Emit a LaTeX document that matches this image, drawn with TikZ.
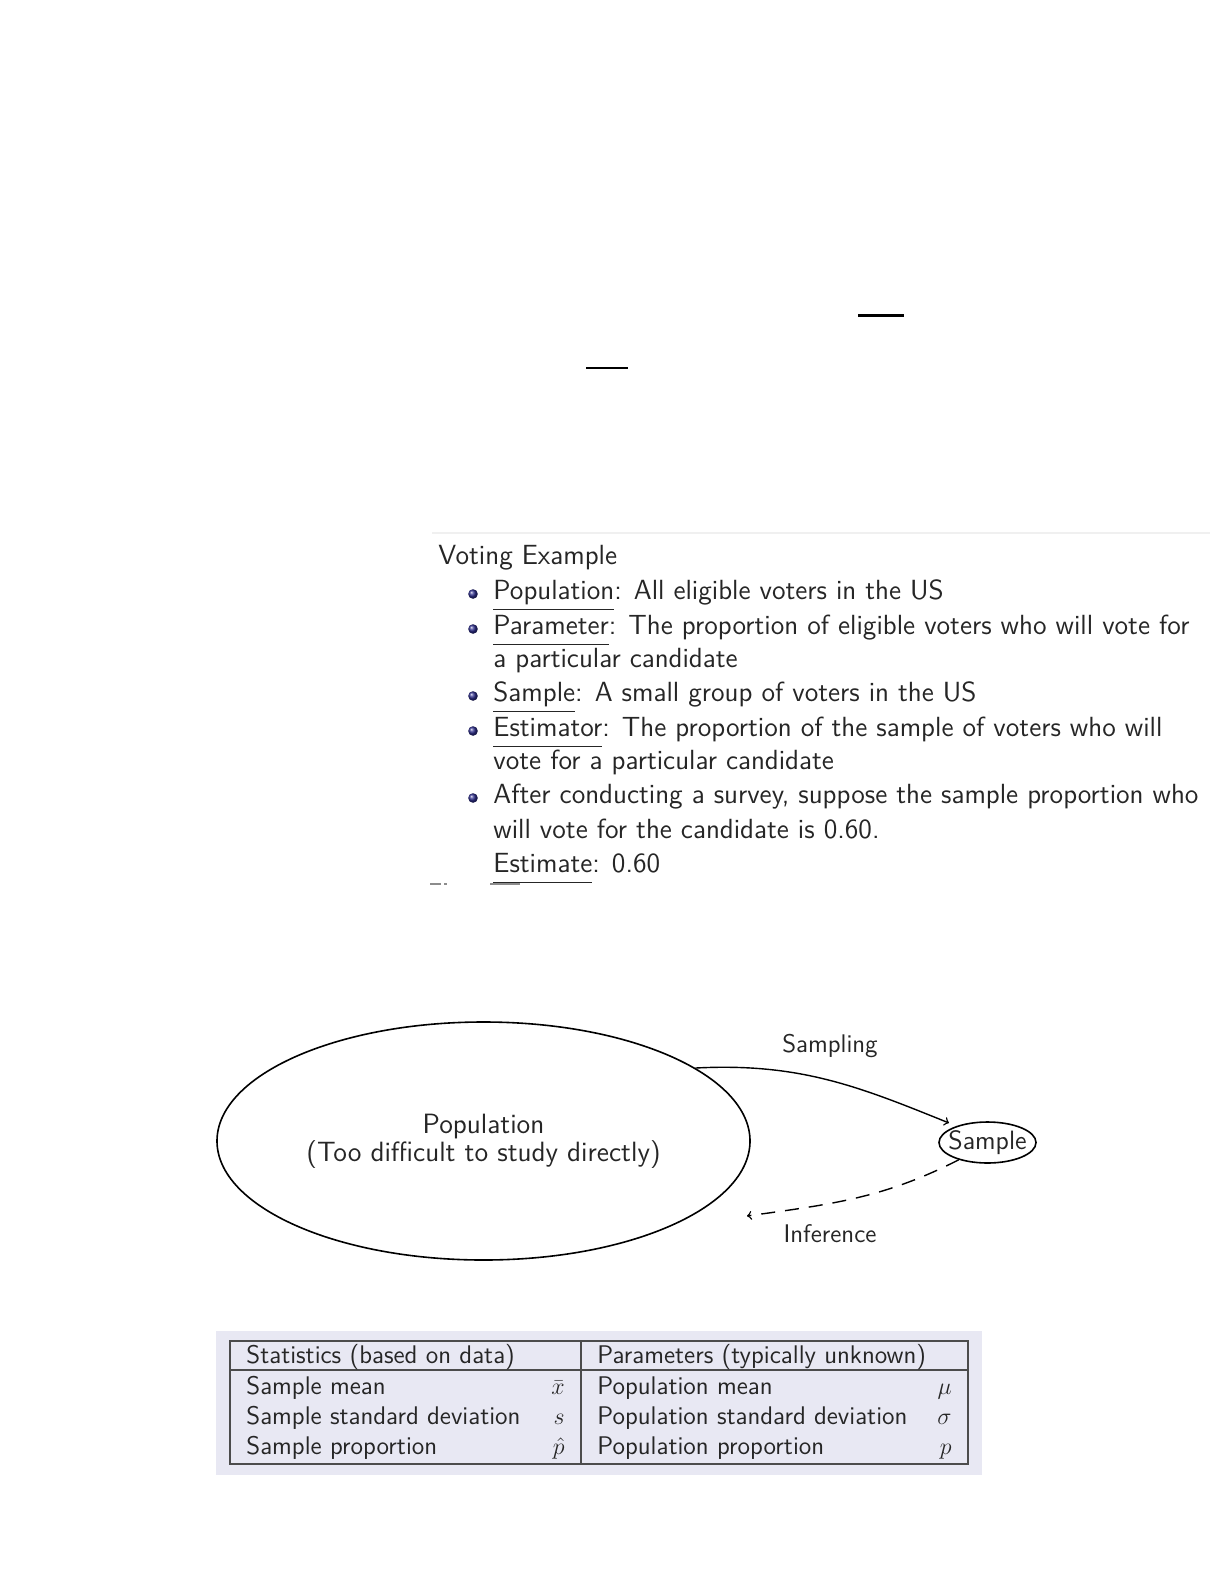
\documentclass[tikz,border=0pt]{standalone}
\usetikzlibrary{shapes.geometric}

\definecolor{tablebg}{RGB}{232,232,243}
\definecolor{ballblue}{RGB}{45,45,140}
\newcommand{\undl}[1]{\underline{#1\rule[-0.26em]{0pt}{0.5em}}}

\begin{document}
\begin{tikzpicture}[x=0.5bp, y=-0.5bp, >=to,
    every node/.style={text=black!85},
    vote/.style={anchor=base west, inner sep=0pt, font=\sffamily\fontsize{13.9}{16}\selectfont},
    cell/.style={inner xsep=0pt, font=\sffamily\fontsize{12.8}{15}\selectfont, execute at begin node=\strut},
    diag/.style={font=\sffamily\fontsize{12.8}{14}\selectfont},
    tbl/.style={black!70, line width=1bp}]
    \useasboundingbox (0,0) rectangle (1224,1584);

    % two short rules at the top
    \draw[line width=1.5bp] (858,315) -- (904,315);
    \draw[line width=1bp] (586,368) -- (628,368);

    % voting example
    \draw[black!6, line width=1bp] (432,533) -- (1210,533);
    \node[vote] (title) at (438,564) {Voting Example};
    \node[vote] (item1) at (493,599) {\undl{Population}: All eligible voters in the US};
    \node[vote] (item2) at (493,634) {\undl{Parameter}: The proportion of eligible voters who will vote for};
    \node[vote] (item2b) at (493,667) {a particular candidate};
    \node[vote] (item3) at (493,701) {\undl{Sample}: A small group of voters in the US};
    \node[vote] (item4) at (493,736) {\undl{Estimator}: The proportion of the sample of voters who will};
    \node[vote] (item4b) at (493,769) {vote for a particular candidate};
    \node[vote] (item5) at (493,803) {After conducting a survey, suppose the sample proportion who};
    \node[vote] (item5b) at (493,838) {will vote for the candidate is 0.60.};
    \node[vote] (item5c) at (493,872) {\undl{Estimate}: 0.60};
    \foreach \y in {599,634,701,736,803}
        \shade[ball color=ballblue] (473,\y-5) circle (4.8);
    % cut off line below
    \fill[black!45] (430,883) rectangle (441,885);
    \fill[black!45] (444,883) rectangle (447,885);
    \fill[black!45] (490,883) rectangle (520,885);

    % population and sample
    \node[draw, ellipse, line width=0.8bp, minimum width=266.5bp, minimum height=119bp,
        align=center, font=\sffamily\fontsize{14}{14}\selectfont] (popn) at (483.5,1141)
        {Population\\(Too difficult to study directly)};
    \node[draw, ellipse, line width=0.8bp, inner sep=0pt, minimum width=48.5bp,
        minimum height=20.5bp, font=\sffamily\fontsize{13.3}{14}\selectfont] (smpl) at (987.5,1142.5)
        {\makebox[0pt]{Sample}};
    \coordinate (infend) at (747,1216);
    \draw[->, line width=0.7bp, shorten >=4bp] (popn.19) to[out=3, in=158] (smpl.152);
    \draw[->, dash pattern=on 7bp off 5bp, line width=0.7bp] (smpl.211) to[out=207, in=8] (infend);
    \node[diag] (sampling) at (830,1046) {Sampling};
    \node[diag] (inference) at (830,1234) {Inference};

    % statistics vs parameters
    \fill[tablebg] (216,1331) rectangle (982,1475);
    \draw[tbl] (230,1341) rectangle (968,1464);
    \draw[tbl] (230,1370) -- (968,1370);
    \draw[tbl] (581,1341) -- (581,1464);
    \node[cell, anchor=west] (stath) at (246,1358) {Statistics (based on data)};
    \node[cell, anchor=west] (parh) at (597,1358) {Parameters (typically unknown)};
    \node[cell, anchor=west] (s1) at (246,1389) {Sample mean};
    \node[cell, anchor=west] (s2) at (246,1419) {Sample standard deviation};
    \node[cell, anchor=west] (s3) at (246,1449) {Sample proportion};
    \node[cell, anchor=east] (s1m) at (565,1389) {$\bar{x}$};
    \node[cell, anchor=east] (s2m) at (565,1419) {$s$};
    \node[cell, anchor=east] (s3m) at (565,1449) {$\hat{p}$};
    \node[cell, anchor=west] (p1) at (597,1389) {Population mean};
    \node[cell, anchor=west] (p2) at (597,1419) {Population standard deviation};
    \node[cell, anchor=west] (p3) at (597,1449) {Population proportion};
    \node[cell, anchor=east] (p1m) at (952,1389) {$\mu$};
    \node[cell, anchor=east] (p2m) at (952,1419) {$\sigma$};
    \node[cell, anchor=east] (p3m) at (952,1449) {$p$};
\end{tikzpicture}
\end{document}
